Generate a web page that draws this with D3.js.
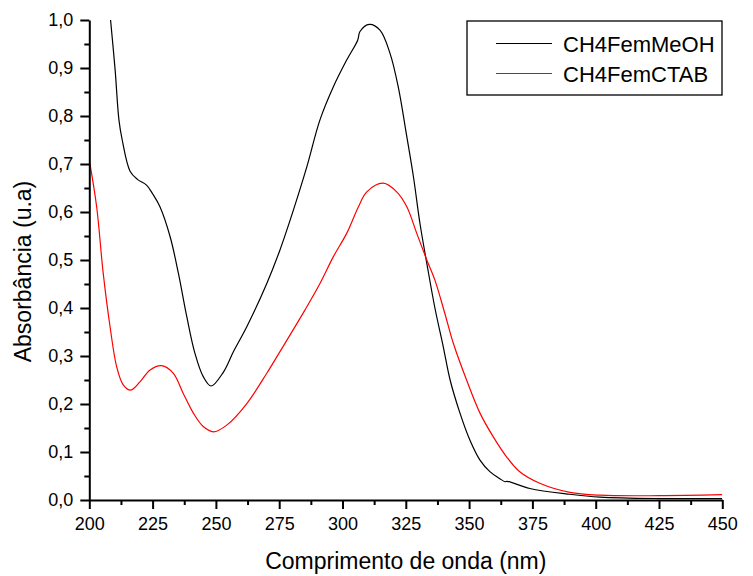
<!DOCTYPE html>
<html>
<head>
<meta charset="utf-8">
<script src="https://cdn.jsdelivr.net/npm/d3@7"></script>
<style>
  body { margin: 0; background: #fff; }
  text { font-family: "Liberation Sans", Arial, sans-serif; fill: #000; }
</style>
</head>
<body>
<div id="chart"></div>
<script>
// spectra (nm, u.a)
var lambdaMeOH = [208.4, 210.2, 211.7, 213, 216.1, 219, 222.6, 225, 227.9, 231.9, 235.2, 238.5, 241.7, 245, 248.1,
	252.9, 257, 262.2, 270.1, 275.3, 280.6, 285.9, 291.1, 296.4, 301.7, 306, 306.9, 310.6, 314.8, 318.8, 322,
	325.4, 328, 330.6, 333.3, 336.5, 339.8, 342.5, 346.4, 350.3, 354.3, 358.2, 362, 364.2, 365, 374, 389.8,
	401.7, 425, 450];
var absMeOH = [1.0, 0.896, 0.792, 0.75, 0.685, 0.668, 0.656, 0.638, 0.611, 0.549, 0.472, 0.382, 0.306, 0.257, 0.2375,
	0.266, 0.31, 0.361, 0.451, 0.521, 0.604, 0.694, 0.792, 0.861, 0.917, 0.958, 0.976, 0.991, 0.979, 0.93, 0.861,
	0.757, 0.674, 0.576, 0.493, 0.40, 0.319, 0.25, 0.181, 0.125, 0.083, 0.059, 0.045, 0.038, 0.039, 0.024, 0.012,
	0.006, 0.003, 0.003];

var lambdaCTAB = [200, 202.9, 205.5, 208.2, 210.8, 213.4, 216.4, 220, 224, 228.6, 233.2, 237.1, 241.1, 245, 249,
	254.3, 262.2, 270.1, 275.3, 285.2, 291.1, 296.4, 301.7, 306.3, 309.6, 316.1, 321.4, 325.4, 329.3, 333.3,
	336.5, 340.4, 343.8, 349, 354.3, 359.5, 364.8, 370, 377.9, 389.8, 401.7, 425, 450];
var absCTAB = [0.708, 0.611, 0.472, 0.361, 0.278, 0.24, 0.229, 0.246, 0.271, 0.28, 0.264, 0.222, 0.181, 0.153, 0.142,
	0.156, 0.201, 0.264, 0.309, 0.396, 0.451, 0.507, 0.556, 0.611, 0.642, 0.66, 0.642, 0.611, 0.556, 0.5,
	0.458, 0.389, 0.326, 0.25, 0.181, 0.132, 0.09, 0.059, 0.035, 0.016, 0.010, 0.009, 0.011];

var seriesNames = ["CH4FemMeOH", "CH4FemCTAB"];
var seriesColors = ["#000000", "#ff0000"];
var xTicks = [200, 225, 250, 275, 300, 325, 350, 375, 400, 425, 450];
var yTicks = [0, 0.1, 0.2, 0.3, 0.4, 0.5, 0.6, 0.7, 0.8, 0.9, 1.0];

var W = 753, H = 576;
var margin = {top: 20, right: 30.7, bottom: 76, left: 89.3};
var width = W - margin.left - margin.right;
var height = H - margin.top - margin.bottom;

var svg = d3.select("#chart").append("svg")
	.attr("width", W)
	.attr("height", H);

var g = svg.append("g")
	.attr("transform", "translate(" + margin.left + "," + margin.top + ")");

var x = d3.scaleLinear().domain([200, 450]).range([0, width]);
var y = d3.scaleLinear().domain([0, 1]).range([height, 0]);

g.append("clipPath").attr("id", "clip")
	.append("rect").attr("x", 0).attr("y", -1).attr("width", width).attr("height", height + 1);

var line = d3.line()
	.x(function(d) { return x(d[0]); })
	.y(function(d) { return y(d[1]); })
	.curve(d3.curveCatmullRom.alpha(0.5));

var data = [d3.zip(lambdaMeOH, absMeOH), d3.zip(lambdaCTAB, absCTAB)];

g.selectAll(".serie").data(data).enter().append("path")
	.attr("class", "serie")
	.attr("clip-path", "url(#clip)")
	.attr("d", line)
	.attr("fill", "none")
	.attr("stroke", function(d, i) { return seriesColors[i]; })
	.attr("stroke-width", 1.2);

var comma = function(v) { return d3.format(".1f")(v).replace(".", ","); };

// minor ticks first, then the major ones with labels
var xMinor = d3.range(212.5, 450, 25);
var yMinor = d3.range(0.05, 1, 0.1);

g.append("g")
	.attr("transform", "translate(0," + height + ")")
	.call(d3.axisBottom(x).tickValues(xMinor).tickSize(5).tickFormat(""))
	.call(function(s) { s.select(".domain").remove(); s.selectAll("line").attr("stroke-width", 2); });

g.append("g")
	.call(d3.axisLeft(y).tickValues(yMinor).tickSize(5).tickFormat(""))
	.call(function(s) { s.select(".domain").remove(); s.selectAll("line").attr("stroke-width", 2); });

var xAxis = g.append("g")
	.attr("transform", "translate(0," + height + ")")
	.call(d3.axisBottom(x).tickValues(xTicks).tickSizeInner(9).tickSizeOuter(0).tickPadding(8));
xAxis.selectAll("text").style("font-size", "18px").attr("fill", "#000");
xAxis.selectAll("line").attr("stroke-width", 2);
xAxis.select(".domain").attr("stroke-width", 2);

var yAxis = g.append("g")
	.call(d3.axisLeft(y).tickValues(yTicks).tickFormat(comma).tickSizeInner(9).tickSizeOuter(0).tickPadding(7));
yAxis.selectAll("text").style("font-size", "18px").attr("fill", "#000");
yAxis.selectAll("line").attr("stroke-width", 2);
yAxis.select(".domain").attr("stroke-width", 2);

svg.append("text")
	.attr("x", margin.left + width / 2)
	.attr("y", 569)
	.attr("text-anchor", "middle")
	.style("font-size", "23px")
	.text("Comprimento de onda (nm)");

svg.append("text")
	.attr("transform", "translate(31," + 271.5 + ") rotate(-90)")
	.attr("text-anchor", "middle")
	.style("font-size", "23px")
	.text("Absorbância (u.a)");

// legend
var legend = svg.append("g");
legend.append("rect")
	.attr("x", 467).attr("y", 21)
	.attr("width", 255).attr("height", 74)
	.attr("fill", "#fff")
	.attr("stroke", "#000")
	.attr("stroke-width", 1.3);

var rows = legend.selectAll(".row").data(seriesNames).enter().append("g")
	.attr("class", "row")
	.attr("transform", function(d, i) { return "translate(0," + (43.5 + i * 30) + ")"; });
rows.append("line")
	.attr("x1", 496).attr("x2", 552)
	.attr("stroke", function(d, i) { return seriesColors[i]; })
	.attr("stroke-width", 1.2);
rows.append("text")
	.attr("x", 563).attr("y", 8)
	.style("font-size", "22px")
	.text(function(d) { return d; });
</script>
</body>
</html>
